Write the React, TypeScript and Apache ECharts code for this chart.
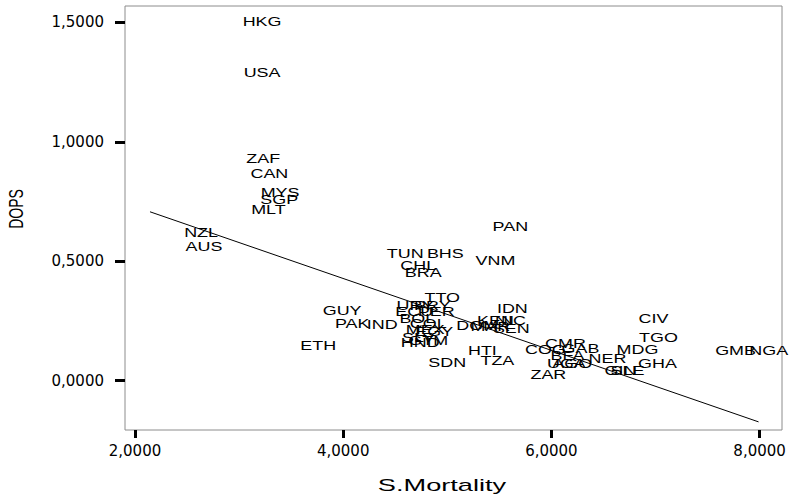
import { useEffect, useRef } from "react";
import * as echarts from "echarts";

// Country codes (point labels) with S.Mortality (x) and DOPS (y)
const countries = [
  "HKG", "USA", "ZAF", "CAN", "MYS", "SGP", "MLT", "NZL", "AUS", "PAN",
  "TUN", "BHS", "CHL", "BRA", "VNM", "TTO", "GUY", "PAK", "IND", "ETH",
  "URY", "PRY", "ECU", "PER", "BOL", "COL", "MEX", "EGY", "SLV", "GTM",
  "HND", "IDN", "KEN", "NIC", "DOM", "MAR", "SEN", "HTI", "TZA", "SDN",
  "CMR", "COG", "GAB", "BFA", "NER", "UGA", "AGO", "GIN", "SLE", "ZAR",
  "CIV", "TGO", "MDG", "GHA", "GMB", "NGA",
];
const mortality = [
  3.221, 3.221, 3.231, 3.291, 3.394, 3.385, 3.282, 2.635, 2.663, 5.606,
  4.596, 4.981, 4.721, 4.769, 5.462, 4.952, 3.990, 4.087, 4.375, 3.760,
  4.692, 4.856, 4.683, 4.894, 4.712, 4.817, 4.788, 4.875, 4.721, 4.817,
  4.740, 5.625, 5.462, 5.606, 5.288, 5.413, 5.615, 5.337, 5.481, 5.000,
  6.135, 5.942, 6.279, 6.154, 6.538, 6.144, 6.200, 6.663, 6.731, 5.971,
  6.981, 7.029, 6.827, 7.019, 7.769, 8.087,
];
const dops = [
  1.506, 1.292, 0.932, 0.868, 0.787, 0.760, 0.717, 0.622, 0.563, 0.647,
  0.534, 0.534, 0.484, 0.455, 0.505, 0.350, 0.295, 0.241, 0.237, 0.149,
  0.316, 0.316, 0.291, 0.291, 0.262, 0.241, 0.216, 0.207, 0.182, 0.170,
  0.161, 0.304, 0.253, 0.253, 0.233, 0.228, 0.220, 0.128, 0.086, 0.078,
  0.157, 0.132, 0.136, 0.107, 0.094, 0.073, 0.073, 0.044, 0.044, 0.027,
  0.262, 0.182, 0.132, 0.073, 0.128, 0.128,
];

// Fitted regression line end points
const fitX = [2.144, 7.99];
const fitY = [0.707, -0.173];

const xTicks = [2, 4, 6, 8];
const yTicks = [0, 0.5, 1, 1.5];

export default function App() {
  const ref = useRef<HTMLDivElement>(null);

  useEffect(() => {
    if (!ref.current) return;
    const chart = echarts.init(ref.current, null, { renderer: "svg" });
    const fmt = (v: number) => v.toFixed(4).replace(".", ",");

    chart.setOption({
      animation: false,
      backgroundColor: "#ffffff",
      grid: {
        left: 125,
        right: 7,
        top: 6,
        bottom: 67,
        show: true,
        borderColor: "#8c8c8c",
        borderWidth: 1,
        backgroundColor: "transparent",
      },
      xAxis: {
        type: "value",
        min: 1.904,
        max: 8.215,
        axisLine: { show: false, onZero: false },
        splitLine: { show: false },
        axisTick: {
          show: true,
          customValues: xTicks,
          length: 8,
          lineStyle: { color: "#000", width: 3 },
        },
        axisLabel: {
          customValues: xTicks,
          formatter: fmt,
          fontFamily: "DejaVu Sans",
          fontSize: 15,
          color: "#000",
          margin: 13,
        },
      },
      yAxis: {
        type: "value",
        min: -0.207,
        max: 1.569,
        axisLine: { show: false, onZero: false },
        splitLine: { show: false },
        axisTick: {
          show: true,
          customValues: yTicks,
          length: 10,
          lineStyle: { color: "#000", width: 3 },
        },
        axisLabel: {
          customValues: yTicks,
          formatter: fmt,
          fontFamily: "DejaVu Sans",
          fontSize: 15,
          color: "#000",
          margin: 21,
        },
      },
      graphic: [
        {
          type: "text",
          x: 442,
          y: 486,
          scaleX: 1.7,
          style: {
            text: "S.Mortality",
            font: '16px "Liberation Sans", Arial, sans-serif',
            fill: "#000",
            align: "center",
            verticalAlign: "middle",
          },
        },
        {
          type: "text",
          x: 17,
          y: 209,
          rotation: Math.PI / 2,
          scaleY: 1.4,
          style: {
            text: "DOPS",
            font: '14px "Liberation Sans", Arial, sans-serif',
            fill: "#000",
            align: "center",
            verticalAlign: "middle",
          },
        },
      ],
      series: [
        {
          type: "line",
          data: fitX.map((x, i) => [x, fitY[i]]),
          symbol: "none",
          lineStyle: { color: "#000", width: 1 },
          silent: true,
        },
        {
          type: "custom",
          clip: false,
          encode: { x: 0, y: 1 },
          data: countries.map((_, i) => [mortality[i], dops[i]]),
          renderItem: (params: any, api: any) => {
            const p = api.coord([api.value(0), api.value(1)]);
            return {
              type: "text",
              x: p[0],
              y: p[1],
              scaleX: 1.38,
              style: {
                text: countries[params.dataIndex],
                font: '13px "Liberation Sans", Arial, sans-serif',
                fill: "#000",
                align: "center",
                verticalAlign: "middle",
              },
            };
          },
        },
      ],
    });

    return () => chart.dispose();
  }, []);

  return (
    <div
      ref={ref}
      style={{ position: "fixed", left: 0, top: 0, width: 789, height: 497 }}
    />
  );
}
